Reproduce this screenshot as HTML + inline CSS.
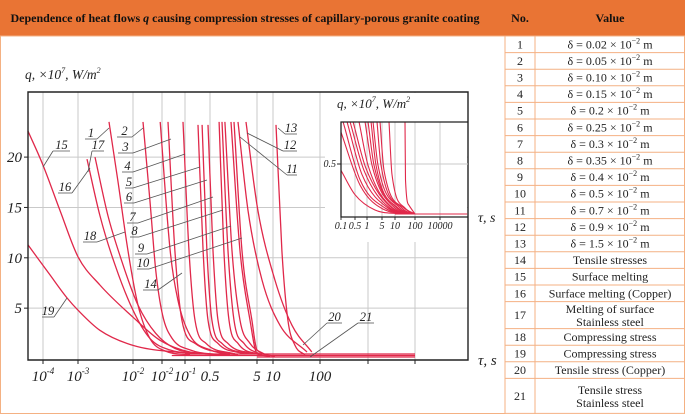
<!DOCTYPE html>
<html><head><meta charset="utf-8"><style>
html,body{margin:0;padding:0;background:#fff;}
svg{display:block;}
.tt{font-family:"Liberation Serif",serif;font-style:italic;fill:#222;}
.tb{font-family:"Liberation Serif",serif;fill:#222;font-size:12px;}
</style></head><body>
<svg id="chart" width="685" height="414" viewBox="0 0 685 414" xmlns="http://www.w3.org/2000/svg">
<rect x="0" y="0" width="685" height="414" fill="#fff"/>
<g id="table"></g>
<g id="plot"></g>
<g id="inset"></g>
<g id="labels"></g>
</svg>
<script>
// ---------- main chart data ----------
const xTickValues=[1e-4,1e-3,1e-2,0.03,0.1,0.5,5,10,100,1000,10000];
const xTickLabels=[["10","-4"],["10","-3"],["10","-2"],["10","-2"],["10","-1"],["0.5",""],["5",""],["10",""],["100",""],["",""],["",""]];
const yTickValues=[5,10,15,20];
const curve15=[[3.7e-5,22.6],[1e-4,19.2],[3.06e-4,14.7],[1e-3,10.1],[2.5e-3,7.3],[0.01,4.1],[0.028,1.8],[0.138,0.65],[1.33,0.35]];
const curve19=[[3.7e-5,11.3],[1.58e-4,8.3],[4.9e-4,6.0],[1e-3,4.8],[2.5e-3,2.8],[0.01,1.3],[0.059,0.65],[1.33,0.35]];
const curve16=[[1.46e-3,19.8],[2.5e-3,14.2],[4.7e-3,9.3],[0.01,4.8],[0.019,2.0],[0.045,0.85],[0.26,0.45]];
const curve17=[[2.04e-3,20],[3.5e-3,14.2],[6.3e-3,9.6],[0.0121,5.3],[0.0236,2.5],[0.059,1.0],[0.38,0.45]];
const curve1=[[3.66e-3,23.5],[5.3e-3,17.7],[8.1e-3,10.7],[0.0121,5.3],[0.019,2.0],[0.035,0.75],[0.138,0.35]];
const curve2=[[0.0146,23.5],[0.019,15.7],[0.0236,8.8],[0.031,4.3],[0.051,2.0],[0.138,0.85],[0.82,0.35]];
const curve14=[[0.028,23.5],[0.046,10.7],[0.069,5.8],[0.138,2.3],[0.5,0.85],[1.97,0.35]];
const curve3=[[0.041,23.5],[0.059,10.7],[0.085,3.8],[0.19,1.5],[1.7,0.45]];
const curve4=[[0.09,23.5],[0.129,10.7],[0.19,3.8],[0.39,1.5],[1.7,0.45]];
const curve5=[[0.231,23.2],[0.32,10.7],[0.44,3.8],[0.74,1.5],[2.78,0.45]];
const curve6=[[0.30,23.2],[0.41,10.7],[0.55,3.8],[0.90,1.5],[3.55,0.45]];
const curve7=[[0.44,23.2],[0.58,10.7],[0.74,3.8],[1.21,1.5],[4.5,0.45]];
const curve8=[[0.78,23.5],[0.99,10.7],[1.27,3.8],[1.97,1.5],[5.7,0.35]];
const curve9=[[0.90,23.5],[1.21,10.7],[1.62,3.8],[2.64,1.5],[6.2,0.35]];
const curve10=[[1.04,23.5],[1.47,10.7],[2.17,3.8],[3.55,1.5],[7.4,0.35]];
const curve11=[[1.62,23.5],[2.40,10.7],[3.9,3.8],[5,0.85],[11,0.25]];
const curve12=[[1.40,23.5],[2.17,10.7],[3.55,3.8],[5,0.5],[8.8,0.25]];
const curve20=[[1.97,23.5],[3.22,14.7],[6.2,7.8],[14.1,3.3],[53,0.65]];
const curve21=[[2.91,23.5],[5.2,14.7],[11,7.8],[25.4,3.3],[67,0.65]];
const curve13=[[11.6,23.2],[15.5,10.7],[20.8,3.8],[29.4,1.3],[48,0.35]];
const baseA=[[0.1,0.45],[10000,0.45]];
const baseB=[[0.05,0.3],[10000,0.3]];
const baseC=[[5,0.15],[10000,0.15]];
// ---------- inset data ----------
const insetTickValues=[0.1,0.5,1,5,10,100,10000];
const insetTickLabels=["0.1","0.5","1","5","10","100","10000"];
const insetA=[[0.1,0.8],[0.67,0.30],[5.87,0.066],[56,0.028]];
const insetB=[[0.1,0.44],[0.5,0.21],[2.36,0.066],[17.8,0.028]];
const insetC=[[0.126,0.9],[0.67,0.35],[5.87,0.085],[56,0.028]];
const insetD=[[0.199,0.9],[0.75,0.40],[6.9,0.085],[71,0.028]];
const insetE=[[0.281,0.9],[0.84,0.44],[7.6,0.085],[79,0.028]];
const insetF=[[0.397,0.9],[0.94,0.46],[8.5,0.085],[79,0.028]];
const insetG=[[0.63,0.9],[1.11,0.49],[8.9,0.085],[89,0.028]];
const insetH=[[0.89,0.9],[1.71,0.49],[10,0.085],[89,0.028]];
const insetI=[[1.11,0.9],[2.12,0.49],[12.6,0.085],[100,0.028]];
const insetJ=[[1.54,0.9],[2.63,0.49],[14.1,0.085],[100,0.028]];
const insetK=[[1.90,0.9],[3.25,0.49],[17.8,0.085],[100,0.028]];
const insetL=[[2.92,0.9],[4.48,0.49],[22.4,0.085],[100,0.028]];
const insetM=[[4.03,0.9],[5.56,0.44],[28.2,0.085],[100,0.028]];
const insetN=[[7.26,0.9],[8.5,0.40],[31.6,0.085],[100,0.028]];
const insetO=[[31.6,0.9],[33.5,0.35],[50,0.11],[100,0.028]];
const insetFloor=[[10,0.028],[1.5e6,0.028]];

// ---------- scales ----------
const NS="http://www.w3.org/2000/svg";
const mainBreakPx=[43,78,133,162,185,210,257,273,320,368,415];
function pw(t,vals,px){
  const l=Math.log10(t); const lv=vals.map(v=>Math.log10(v));
  let i=0; if(l<=lv[0]) i=0; else if(l>=lv[lv.length-1]) i=lv.length-2;
  else { while(!(l>=lv[i]&&l<=lv[i+1])) i++; }
  return px[i]+(l-lv[i])/(lv[i+1]-lv[i])*(px[i+1]-px[i]);
}
const xs=t=>pw(t,xTickValues,mainBreakPx);
const ys=q=>358.5-q*10.07;
const insetBreakPx=[341,355,367,382,395,415,440];
const ixs=t=>pw(t,insetTickValues,insetBreakPx);
const iys=q=>217-q*106;

function mk(tag,attrs,parent){const e=document.createElementNS(NS,tag);for(const k in attrs)e.setAttribute(k,attrs[k]);parent.appendChild(e);return e;}
function monoPath(p){
  const n=p.length; if(n<2) return "";
  const d=[],m=[];
  for(let i=0;i<n-1;i++){d.push((p[i+1][1]-p[i][1])/(p[i+1][0]-p[i][0]));}
  m[0]=d[0]; m[n-1]=d[n-2];
  for(let i=1;i<n-1;i++){ m[i]=(d[i-1]*d[i]<=0)?0:(d[i-1]+d[i])/2; }
  for(let i=0;i<n-1;i++){
    if(d[i]===0){m[i]=0;m[i+1]=0;continue;}
    const a=m[i]/d[i],b=m[i+1]/d[i],s=a*a+b*b;
    if(s>9){const t=3/Math.sqrt(s);m[i]=t*a*d[i];m[i+1]=t*b*d[i];}
  }
  let s="M"+p[0][0].toFixed(1)+","+p[0][1].toFixed(1);
  for(let i=0;i<n-1;i++){
    const h=(p[i+1][0]-p[i][0])/3;
    s+=" C"+(p[i][0]+h).toFixed(1)+","+(p[i][1]+m[i]*h).toFixed(1)+" "+(p[i+1][0]-h).toFixed(1)+","+(p[i+1][1]-m[i+1]*h).toFixed(1)+" "+p[i+1][0].toFixed(1)+","+p[i+1][1].toFixed(1);
  }
  return s;
}
const RED="#e0284a", GRID="#c9c9c9";

// ---------- table ----------
const T=document.getElementById("table");
const hdr=mk("rect",{x:0,y:0,width:685,height:36,fill:"#e97434"},T);


const ht=mk("text",{x:245,y:22,"text-anchor":"middle","font-family":"Liberation Serif, serif","font-weight":"bold","font-size":"12",fill:"#111"},T);


ht.innerHTML='Dependence of heat flows <tspan font-style="italic">q</tspan> causing compression stresses of capillary-porous granite coating';
const hn=mk("text",{x:520,y:22,"text-anchor":"middle","font-family":"Liberation Serif, serif","font-weight":"bold","font-size":"12",fill:"#111"},T);
hn.textContent="No.";


const hv=mk("text",{x:610,y:22,"text-anchor":"middle","font-family":"Liberation Serif, serif","font-weight":"bold","font-size":"12",fill:"#111"},T);
hv.textContent="Value";


const rowNos=["1","2","3","4","5","6","7","8","9","10","11","12","13","14","15","16","17","18","19","20","21"];
const rowVals=[["δ = 0.02 × 10","−2"," m"],["δ = 0.05 × 10","−2"," m"],["δ = 0.10 × 10","−2"," m"],["δ = 0.15 × 10","−2"," m"],["δ = 0.2 × 10","−2"," m"],["δ = 0.25 × 10","−2"," m"],["δ = 0.3 × 10","−2"," m"],["δ = 0.35 × 10","−2"," m"],["δ = 0.4 × 10","−2"," m"],["δ = 0.5 × 10","−2"," m"],["δ = 0.7 × 10","−2"," m"],["δ = 0.9 × 10","−2"," m"],["δ = 1.5 × 10","−2"," m"],["Tensile stresses"],["Surface melting"],["Surface melting (Copper)"],["Melting of surface","Stainless steel"],["Compressing stress"],["Compressing stress"],["Tensile stress (Copper)"],["Tensile stress","Stainless steel"]];
const rowH=[16.6,16.6,16.6,16.6,16.6,16.6,16.6,16.6,16.6,16.6,16.6,16.6,16.6,16.6,16.6,16.6,27,16.6,16.6,16.6,35];
const LC="#f4b183";
let y=36;
mk("line",{x1:0,y1:36,x2:685,y2:36,stroke:LC,"stroke-width":1},T);
rowNos.forEach((no,i)=>{
  const h=rowH[i]; const cy=y+h/2+4;
  const tn=mk("text",{x:520,y:cy,"text-anchor":"middle",class:"tb"},T);
  tn.textContent=no;
  
  
  const v=rowVals[i];
  const tv=mk("text",{x:610,y:cy,"text-anchor":"middle",class:"tb"},T);
  
  
  if(v.length===3){ tv.innerHTML=v[0]+'<tspan dy="-5" font-size="8">'+v[1]+'</tspan><tspan dy="5">'+v[2]+'</tspan>'; }
  else if(v.length===2){ tv.setAttribute("y",y+h/2-2); tv.innerHTML='<tspan x="610">'+v[0]+'</tspan><tspan x="610" dy="13">'+v[1]+'</tspan>'; }
  else tv.textContent=v[0];
  y+=h;
  mk("line",{x1:505,y1:y,x2:685,y2:y,stroke:LC,"stroke-width":1},T);
});
[0.5,505,535,684.5].forEach(x=>mk("line",{x1:x,y1:36,x2:x,y2:414,stroke:LC,"stroke-width":1},T));
mk("line",{x1:0,y1:413.5,x2:505,y2:413.5,stroke:LC,"stroke-width":1},T);

// ---------- main plot ----------
const P=document.getElementById("plot");
const L=28,R=468,TOP=92,BOT=360;
yTickValues.forEach(v=>{
  const g=mk("line",{x1:L,y1:ys(v),x2:R,y2:ys(v),stroke:GRID,"stroke-width":1},P);
  
  
  const t=mk("text",{x:22,y:ys(v)+5,"text-anchor":"end",class:"tt","font-size":"15"},P);
  t.textContent=String(v);
  
  
  mk("line",{x1:L-4,y1:ys(v),x2:L,y2:ys(v),stroke:"#222","stroke-width":1},P);
});
xTickValues.forEach((v,i)=>{
  const x=xs(v);
  const g=mk("line",{x1:x,y1:TOP,x2:x,y2:BOT,stroke:GRID,"stroke-width":1},P);
  
  
  mk("line",{x1:x,y1:BOT,x2:x,y2:BOT+4,stroke:"#222","stroke-width":1},P);
  const lb=xTickLabels[i];
  if(lb[0]){
    const t=mk("text",{x:x,y:381,"text-anchor":"middle",class:"tt","font-size":"15"},P);
    
    
    t.innerHTML=lb[1]?lb[0]+'<tspan dy="-7" font-size="9">'+lb[1]+'</tspan>':lb[0];
  }
});
// white area behind the inset
mk("rect",{x:325,y:93,width:142,height:149,fill:"#fff"},P);
const mainCurves={curve15,curve19,curve16,curve17,curve1,curve2,curve14,curve3,curve4,curve5,curve6,curve7,curve8,curve9,curve10,curve11,curve12,curve20,curve21,curve13,baseA,baseB,baseC};
for(const k in mainCurves){
  const pts=mainCurves[k].map(d=>[xs(d[0]),ys(d[1])]);
  const p=mk("path",{d:monoPath(pts),fill:"none",stroke:RED,"stroke-width":1.3},P);
  
  
}
const ax=mk("path",{d:`M${L},${TOP} H${R} V${BOT} H${L} Z`,fill:"none",stroke:"#222","stroke-width":1.4},P);


const yt=mk("text",{x:25,y:79,class:"tt","font-size":"13.5"},P);
yt.innerHTML='q, ×10<tspan dy="-6" font-size="8">7</tspan><tspan dy="6">, W/m</tspan><tspan dy="-6" font-size="8">2</tspan>';


const xt=mk("text",{x:478,y:365,class:"tt","font-size":"15"},P);
xt.textContent="τ, s";



// ---------- inset ----------
const I=document.getElementById("inset");
const IL=341,IR=468,IT=122,IB=217;
insetTickValues.forEach((v,i)=>{
  const x=ixs(v);
  if(i>0){
    const g=mk("line",{x1:x,y1:IT,x2:x,y2:IB,stroke:GRID,"stroke-width":0.9},I);
    
    
  }
  mk("line",{x1:x,y1:IB,x2:x,y2:IB+3,stroke:"#222","stroke-width":0.9},I);
  const t=mk("text",{x:x,y:229,"text-anchor":"middle",class:"tt","font-size":"10"},I);
  t.textContent=insetTickLabels[i];
  
  
});
const ig=mk("line",{x1:IL,y1:iys(0.5),x2:IR,y2:iys(0.5),stroke:GRID,"stroke-width":0.9},I);


mk("line",{x1:IL-4,y1:iys(0.5),x2:IL,y2:iys(0.5),stroke:"#222","stroke-width":1},I);
const i5=mk("text",{x:336,y:iys(0.5)+3,"text-anchor":"end",class:"tt","font-size":"10"},I);
i5.textContent="0.5";


const insetCurves={insetA,insetB,insetC,insetD,insetE,insetF,insetG,insetH,insetI,insetJ,insetK,insetL,insetM,insetN,insetO,insetFloor};
for(const k in insetCurves){
  const pts=insetCurves[k].map(d=>[ixs(d[0]),iys(d[1])]);
  const p=mk("path",{d:monoPath(pts),fill:"none",stroke:RED,"stroke-width":1.1},I);
  
  
}
const ia=mk("path",{d:`M${IR},${IT} H${IL} V${IB} H${IR}`,fill:"none",stroke:"#222","stroke-width":1.3},I);


const it=mk("text",{x:337,y:108,class:"tt","font-size":"13"},I);
it.innerHTML='q, ×10<tspan dy="-6" font-size="8">7</tspan><tspan dy="6">, W/m</tspan><tspan dy="-6" font-size="8">2</tspan>';


const ixt=mk("text",{x:478,y:222,class:"tt","font-size":"14"},I);
ixt.textContent="τ, s";



// ---------- curve labels (annotation leader lines) ----------
const G=document.getElementById("labels");
const ann=[["15",53,70,151,43,167],["16",58,72,193,90,168],["17",92,104,151,88,172],["1",85,97,139,109,128],["2",117,132,137,143,128],["3",118,133,153,171,139],["4",122,133,172,185,154],["5",125,133,188,200,167],["6",124,134,203,207,180],["7",127,138,223,213,197],["8",130,139,237,223,210],["9",135,147,254,231,226],["10",137,149,269,242,238],["14",143,158,290,182,273],["18",83,97,242,125,232],["19",42,54,317,67,298],["13",285,297,134,278,128],["12",283,297,151,247,133],["11",287,297,175,240,137],["20",327,342,323,303,345],["21",358,374,323,310,357]];
ann.forEach(a=>{
  const u=mk("line",{x1:a[1],y1:a[3],x2:a[2],y2:a[3],stroke:"#555","stroke-width":0.8},G);
  
  
  const lx=(a[4]>a[2])?a[2]:a[1];
  const l=mk("line",{x1:lx,y1:a[3],x2:a[4],y2:a[5],stroke:"#555","stroke-width":0.8},G);
  
  
  const t=mk("text",{x:(a[1]+a[2])/2,y:a[3]-2,"text-anchor":"middle",class:"tt","font-size":"12.5"},G);
  t.textContent=a[0];
  
  
});
</script>
</body></html>
